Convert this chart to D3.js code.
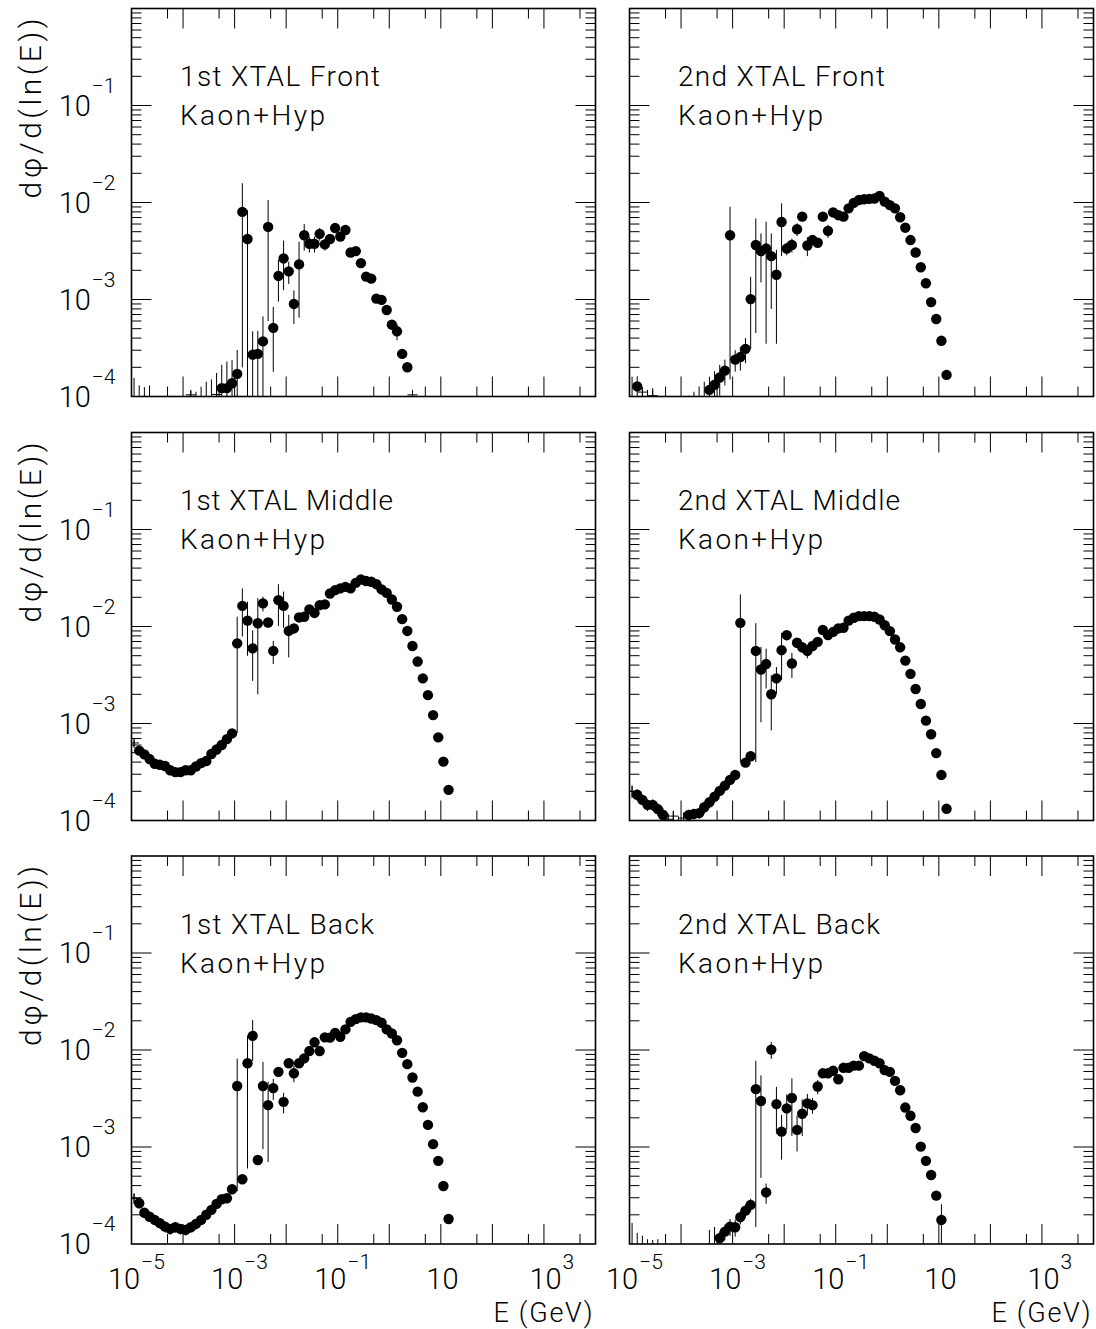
<!DOCTYPE html>
<html>
<head>
<meta charset="utf-8">
<script src="https://cdn.jsdelivr.net/npm/d3@7"></script>
<style>
  html, body { margin: 0; padding: 0; background: #fff; }
  svg { display: block; font-family: "Roboto", "Liberation Sans", sans-serif; font-weight: 300; }
</style>
</head>
<body>
<svg id="chart" width="1096" height="1329"></svg>
<script>
// Bin centres in log10(E/GeV): ten bins per decade
const binLogE = [
  -4.95, -4.85, -4.75, -4.65, -4.55, -4.45, -4.35, -4.25, -4.15, -4.05,
  -3.95, -3.85, -3.75, -3.65, -3.55, -3.45, -3.35, -3.25, -3.15, -3.05,
  -2.95, -2.85, -2.75, -2.65, -2.55, -2.45, -2.35, -2.25, -2.15, -2.05,
  -1.95, -1.85, -1.75, -1.65, -1.55, -1.45, -1.35, -1.25, -1.15, -1.05,
  -0.95, -0.85, -0.75, -0.65, -0.55, -0.45, -0.35, -0.25, -0.15, -0.05,
   0.05,  0.15,  0.25,  0.35,  0.45,  0.55,  0.65,  0.75,  0.85,  0.95,
   1.05,  1.15
];

// dphi/d(lnE) per bin and its statistical error, one pair of arrays per detector position
const front1Val = [
  0.5e-4, 0.4e-4, 0.4e-4, 0.4e-4, null, null, null, null, null, null,
  null, 1.04e-4, 0.3e-4, 0.4e-4, 0.5e-4, 0.5e-4, 1.05e-4, 1.22e-4, 1.22e-4, 1.37e-4,
  1.71e-4, 8.0e-3, 4.2e-3, 2.7e-4, 2.75e-4, 3.7e-4, 5.6e-3, 5.1e-4, 1.75e-3, 2.65e-3,
  1.95e-3, 9.0e-4, 2.3e-3, 4.6e-3, 3.75e-3, 3.75e-3, 4.75e-3, 3.7e-3, 4.2e-3, 5.45e-3,
  4.45e-3, 5.2e-3, 3.05e-3, 3.15e-3, 2.37e-3, 1.72e-3, 1.64e-3, 1.02e-3, 0.99e-3, 7.8e-4,
  5.5e-4, 4.7e-4, 2.75e-4, 2.0e-4, 1.04e-4, null, null, null, null, null,
  null, null
];
const front1Err = [
  1.05e-4, 0.9e-4, 0.85e-4, 0.9e-4, null, null, null, null, null, null,
  null, 0.1e-4, 0.82e-4, 0.86e-4, 0.92e-4, 1.0e-4, 0.7e-4, 0.9e-4, 1.07e-4, 1.0e-4,
  1.3e-4, 7.8e-3, 4.15e-3, 2.0e-4, 2.0e-4, 3.0e-4, 5.0e-3, 3.3e-4, 0.8e-3, 1.4e-3,
  0.5e-3, 3.4e-4, 1.65e-3, 1.4e-3, 0.7e-3, 0.7e-3, 0.7e-3, 0.5e-3, 0.4e-3, 0.6e-3,
  0.4e-3, 0.3e-3, 0.2e-3, 0.2e-3, 0.15e-3, 0.1e-3, 0.1e-3, 0.06e-3, 0.06e-3, 0.5e-4,
  0.4e-4, 0.9e-4, 0.3e-4, 0.2e-4, 0.1e-4, null, null, null, null, null,
  null, null
];

const front2Val = [
  0.6e-4, 1.27e-4, 1.11e-4, 0.5e-4, 1.02e-4, null, null, null, null, null,
  null, 0.5e-4, 0.5e-4, 0.5e-4, 0.5e-4, 1.17e-4, 1.32e-4, 1.57e-4, 1.85e-4, 4.6e-3,
  2.4e-4, 2.55e-4, 3.1e-4, 1.01e-3, 3.65e-3, 3.15e-3, 3.35e-3, 2.8e-3, 1.8e-3, 6.3e-3,
  3.35e-3, 3.65e-3, 5.3e-3, 7.15e-3, 3.6e-3, 4.1e-3, 3.85e-3, 7.15e-3, 5.1e-3, 7.9e-3,
  7.4e-3, 7.15e-3, 8.7e-3, 9.9e-3, 1.06e-2, 1.08e-2, 1.09e-2, 1.10e-2, 1.17e-2, 1.02e-2,
  9.4e-3, 8.7e-3, 7.05e-3, 5.5e-3, 4.1e-3, 3.05e-3, 2.15e-3, 1.47e-3, 9.4e-4, 6.3e-4,
  3.75e-4, 1.67e-4
];
const front2Err = [
  1.0e-4, 0.35e-4, 0.1e-4, 0.67e-4, 0.2e-4, null, null, null, null, null,
  null, 0.52e-4, 0.62e-4, 0.77e-4, 0.92e-4, 0.43e-4, 0.5e-4, 0.55e-4, 0.55e-4, 4.45e-3,
  0.6e-4, 0.7e-4, 0.9e-4, 0.7e-3, 3.2e-3, 1.65e-3, 3.0e-3, 2.0e-3, 1.45e-3, 3.5e-3,
  0.5e-3, 0.6e-3, 0.8e-3, 0.6e-3, 0.8e-3, 0.3e-3, 0.3e-3, 0.8e-3, 0.8e-3, 0.4e-3,
  0.3e-3, 0.3e-3, 0.3e-3, 0.3e-3, 0.3e-3, 0.3e-3, 0.3e-3, 0.3e-3, 0.3e-3, 0.25e-3,
  0.2e-3, 0.2e-3, 0.15e-3, 0.12e-3, 0.1e-3, 0.08e-3, 0.06e-3, 0.04e-3, 0.3e-4, 0.2e-4,
  0.12e-4, 0.06e-4
];

const middle1Val = [
  6.3e-4, 5.25e-4, 4.8e-4, 4.3e-4, 3.85e-4, 3.75e-4, 3.65e-4, 3.3e-4, 3.15e-4, 3.15e-4,
  3.3e-4, 3.3e-4, 3.6e-4, 3.9e-4, 4.1e-4, 4.85e-4, 5.4e-4, 6.0e-4, 6.9e-4, 7.9e-4,
  6.7e-3, 1.63e-2, 1.15e-2, 5.95e-3, 1.08e-2, 1.73e-2, 1.10e-2, 5.6e-3, 1.87e-2, 1.63e-2,
  9.0e-3, 9.55e-3, 1.24e-2, 1.26e-2, 1.50e-2, 1.38e-2, 1.66e-2, 1.69e-2, 2.19e-2, 2.37e-2,
  2.47e-2, 2.56e-2, 2.47e-2, 2.82e-2, 3.05e-2, 2.94e-2, 2.89e-2, 2.73e-2, 2.41e-2, 2.22e-2,
  1.90e-2, 1.60e-2, 1.19e-2, 9.0e-3, 6.3e-3, 4.35e-3, 2.92e-3, 1.96e-3, 1.22e-3, 7.2e-4,
  4.05e-4, 2.07e-4
];
const middle1Err = [
  0.5e-4, 0.3e-4, 0.3e-4, 0.25e-4, 0.2e-4, 0.2e-4, 0.2e-4, 0.2e-4, 0.2e-4, 0.2e-4,
  0.2e-4, 0.2e-4, 0.2e-4, 0.2e-4, 0.25e-4, 0.3e-4, 0.3e-4, 0.35e-4, 0.4e-4, 0.45e-4,
  5.9e-3, 8.4e-3, 6.5e-3, 3.2e-3, 8.8e-3, 3.0e-3, 1.0e-3, 1.5e-3, 8.6e-3, 6.6e-3,
  4.2e-3, 1.0e-3, 0.8e-3, 0.6e-3, 0.6e-3, 0.6e-3, 0.5e-3, 0.5e-3, 0.5e-3, 0.5e-3,
  0.5e-3, 0.5e-3, 0.5e-3, 0.5e-3, 0.5e-3, 0.5e-3, 0.5e-3, 0.4e-3, 0.4e-3, 0.4e-3,
  0.3e-3, 0.3e-3, 0.2e-3, 0.15e-3, 0.1e-3, 0.08e-3, 0.06e-3, 0.04e-3, 0.03e-3, 0.2e-4,
  0.12e-4, 0.07e-4
];

const middle2Val = [
  2.0e-4, 1.84e-4, 1.63e-4, 1.45e-4, 1.45e-4, 1.31e-4, 1.14e-4, 1.03e-4, 1.11e-4, 0.6e-4,
  1.06e-4, 1.14e-4, 1.17e-4, 1.19e-4, 1.37e-4, 1.54e-4, 1.76e-4, 2.02e-4, 2.29e-4, 2.62e-4,
  2.95e-4, 1.09e-2, 3.95e-4, 4.6e-4, 5.6e-3, 3.6e-3, 4.1e-3, 2.0e-3, 2.92e-3, 5.7e-3,
  8.15e-3, 4.15e-3, 6.8e-3, 6.1e-3, 5.6e-3, 6.3e-3, 6.95e-3, 9.2e-3, 8.15e-3, 8.8e-3,
  9.55e-3, 9.7e-3, 1.15e-2, 1.23e-2, 1.28e-2, 1.28e-2, 1.28e-2, 1.26e-2, 1.18e-2, 1.03e-2,
  8.95e-3, 7.35e-3, 6.1e-3, 4.45e-3, 3.25e-3, 2.27e-3, 1.59e-3, 1.07e-3, 7.75e-4, 4.95e-4,
  2.95e-4, 1.32e-4
];
const middle2Err = [
  0.3e-4, 0.25e-4, 0.2e-4, 0.2e-4, 0.2e-4, 0.2e-4, 0.2e-4, 0.15e-4, 0.15e-4, 0.5e-4,
  0.15e-4, 0.15e-4, 0.15e-4, 0.15e-4, 0.2e-4, 0.2e-4, 0.25e-4, 0.25e-4, 0.3e-4, 0.3e-4,
  0.35e-4, 1.05e-2, 0.4e-4, 0.5e-4, 5.2e-3, 2.57e-3, 1.8e-3, 1.15e-3, 0.9e-3, 2.9e-3,
  1.0e-3, 1.2e-3, 0.8e-3, 0.7e-3, 0.9e-3, 0.6e-3, 0.5e-3, 0.4e-3, 0.6e-3, 0.4e-3,
  0.4e-3, 0.3e-3, 0.3e-3, 0.3e-3, 0.3e-3, 0.3e-3, 0.3e-3, 0.3e-3, 0.3e-3, 0.25e-3,
  0.2e-3, 0.2e-3, 0.15e-3, 0.12e-3, 0.1e-3, 0.07e-3, 0.05e-3, 0.04e-3, 0.3e-4, 0.2e-4,
  0.12e-4, 0.06e-4
];

const back1Val = [
  2.95e-4, 2.63e-4, 2.1e-4, 1.91e-4, 1.77e-4, 1.64e-4, 1.51e-4, 1.43e-4, 1.49e-4, 1.43e-4,
  1.40e-4, 1.49e-4, 1.61e-4, 1.77e-4, 2.0e-4, 2.25e-4, 2.59e-4, 2.89e-4, 2.96e-4, 3.67e-4,
  4.25e-3, 4.65e-4, 7.3e-3, 1.40e-2, 7.35e-4, 4.25e-3, 2.7e-3, 4.05e-3, 5.95e-3, 2.92e-3,
  7.3e-3, 5.75e-3, 7.3e-3, 8.2e-3, 9.75e-3, 1.2e-2, 9.75e-3, 1.35e-2, 1.34e-2, 1.50e-2,
  1.37e-2, 1.63e-2, 1.95e-2, 2.08e-2, 2.17e-2, 2.17e-2, 2.11e-2, 2.03e-2, 1.91e-2, 1.63e-2,
  1.48e-2, 1.26e-2, 9.35e-3, 7.15e-3, 5.2e-3, 3.72e-3, 2.57e-3, 1.69e-3, 1.07e-3, 7.2e-4,
  3.96e-4, 1.81e-4
];
const back1Err = [
  0.35e-4, 0.3e-4, 0.25e-4, 0.22e-4, 0.2e-4, 0.2e-4, 0.2e-4, 0.18e-4, 0.18e-4, 0.18e-4,
  0.18e-4, 0.18e-4, 0.2e-4, 0.2e-4, 0.22e-4, 0.25e-4, 0.28e-4, 0.3e-4, 0.3e-4, 0.4e-4,
  3.9e-3, 0.5e-4, 6.7e-3, 6.3e-3, 0.6e-4, 3.3e-3, 2.0e-3, 1.0e-3, 0.5e-3, 0.7e-3,
  0.5e-3, 1.1e-3, 0.5e-3, 0.5e-3, 0.5e-3, 0.5e-3, 0.5e-3, 0.5e-3, 0.5e-3, 0.5e-3,
  0.5e-3, 0.5e-3, 0.5e-3, 0.5e-3, 0.5e-3, 0.5e-3, 0.4e-3, 0.4e-3, 0.4e-3, 0.4e-3,
  0.3e-3, 0.3e-3, 0.2e-3, 0.15e-3, 0.1e-3, 0.08e-3, 0.06e-3, 0.04e-3, 0.03e-3, 0.2e-4,
  0.12e-4, 0.07e-4
];

const back2Val = [
  0.6e-4, 0.5e-4, 0.5e-4, 0.5e-4, 0.5e-4, 0.5e-4, null, null, null, null,
  null, null, null, null, null, 0.5e-4, 0.6e-4, 1.15e-4, 1.34e-4, 1.51e-4,
  1.49e-4, 1.89e-4, 2.21e-4, 2.53e-4, 3.95e-3, 2.98e-3, 3.4e-4, 1.01e-2, 2.77e-3, 1.44e-3,
  2.5e-3, 3.2e-3, 1.5e-3, 2.2e-3, 2.82e-3, 2.7e-3, 4.2e-3, 5.75e-3, 5.75e-3, 6.1e-3,
  5.0e-3, 6.55e-3, 6.55e-3, 6.9e-3, 6.9e-3, 8.65e-3, 8.2e-3, 7.75e-3, 7.3e-3, 6.2e-3,
  5.95e-3, 4.8e-3, 3.85e-3, 2.55e-3, 2.1e-3, 1.57e-3, 1.01e-3, 7.2e-4, 5.15e-4, 3.15e-4,
  1.77e-4, null
];
const back2Err = [
  1.05e-4, 0.8e-4, 0.72e-4, 0.62e-4, 0.6e-4, 0.62e-4, null, null, null, null,
  null, null, null, null, null, 0.9e-4, 0.9e-4, 0.2e-4, 0.25e-4, 0.3e-4,
  0.3e-4, 0.3e-4, 0.35e-4, 0.4e-4, 3.8e-3, 2.5e-3, 0.8e-4, 2.0e-3, 1.4e-3, 0.7e-3,
  1.0e-3, 1.9e-3, 0.6e-3, 0.9e-3, 0.7e-3, 0.5e-3, 0.7e-3, 0.6e-3, 0.5e-3, 0.4e-3,
  0.5e-3, 0.3e-3, 0.3e-3, 0.3e-3, 0.3e-3, 0.3e-3, 0.3e-3, 0.3e-3, 0.25e-3, 0.2e-3,
  0.2e-3, 0.15e-3, 0.12e-3, 0.1e-3, 0.08e-3, 0.06e-3, 0.05e-3, 0.04e-3, 0.3e-4, 0.2e-4,
  0.8e-4, null
];

const panelTitles = ["1st XTAL Front", "2nd XTAL Front", "1st XTAL Middle",
                     "2nd XTAL Middle", "1st XTAL Back", "2nd XTAL Back"];
const panelSubtitle = "Kaon+Hyp";
const yLabelExponents = [-1, -2, -3, -4];
const xLabelExponents = [-5, -3, -1, 1, 3];
const yTitle = "dφ/d(ln(E))";
const xTitle = "E (GeV)";

const panels = [
  { title: panelTitles[0], values: front1Val,  errors: front1Err,  titleLen: 200 },
  { title: panelTitles[1], values: front2Val,  errors: front2Err,  titleLen: 207 },
  { title: panelTitles[2], values: middle1Val, errors: middle1Err, titleLen: 213 },
  { title: panelTitles[3], values: middle2Val, errors: middle2Err, titleLen: 222 },
  { title: panelTitles[4], values: back1Val,   errors: back1Err,   titleLen: 194 },
  { title: panelTitles[5], values: back2Val,   errors: back2Err,   titleLen: 202 }
];

// ---- layout ----
const colLeft = [131.5, 629.5];
const rowTop = [8.5, 432.5, 856];
const W = 464, H = 388;
const MARK_R = 5.2;

const svg = d3.select("#chart");
const x = d3.scaleLog().domain([1e-5, 1e4]).range([0, W]);
const y = d3.scaleLog().domain([1e-4, 1]).range([H, 0]);

const xMajor = d3.range(-4, 4).map(n => Math.pow(10, n));
const xMinor = d3.range(-5, 4).map(n => 5 * Math.pow(10, n));
const yMajor = d3.range(-3, 0).map(n => Math.pow(10, n));
const yMinor = [];
d3.range(-4, 0).forEach(n => d3.range(2, 10).forEach(m => yMinor.push(m * Math.pow(10, n))));

const defs = svg.append("defs");

panels.forEach((p, i) => {
  const col = i % 2, row = Math.floor(i / 2);
  const g = svg.append("g").attr("transform", `translate(${colLeft[col]},${rowTop[row]})`);

  defs.append("clipPath").attr("id", "frame" + i)
    .append("rect").attr("x", 0).attr("y", 0).attr("width", W).attr("height", H);

  // tick marks on all four sides, pointing inward
  const ticks = g.append("g").attr("stroke", "#000").attr("stroke-width", 1);
  [[xMajor, 20], [xMinor, 10]].forEach(([vals, len]) => {
    vals.forEach(v => {
      const px = x(v);
      ticks.append("line").attr("x1", px).attr("x2", px).attr("y1", H).attr("y2", H - len);
      ticks.append("line").attr("x1", px).attr("x2", px).attr("y1", 0).attr("y2", len);
    });
  });
  [[yMajor, 20], [yMinor, 10]].forEach(([vals, len]) => {
    vals.forEach(v => {
      const py = y(v);
      ticks.append("line").attr("x1", 0).attr("x2", len).attr("y1", py).attr("y2", py);
      ticks.append("line").attr("x1", W).attr("x2", W - len).attr("y1", py).attr("y2", py);
    });
  });

  // data: error bars and markers
  const pts = binLogE.map((le, k) => ({ E: Math.pow(10, le), v: p.values[k], s: p.errors[k] }))
    .filter(d => d.v != null);

  const plot = g.append("g").attr("clip-path", `url(#frame${i})`);

  plot.append("g").attr("stroke", "#000").attr("stroke-width", 1)
    .selectAll("line").data(pts).join("line")
      .attr("x1", d => x(d.E)).attr("x2", d => x(d.E))
      .attr("y1", d => { const lo = d.v - (d.s || 0); return lo > 1e-5 ? y(lo) : H + 10; })
      .attr("y2", d => y(d.v + (d.s || 0)));

  const edgeDist = d => {
    const cx = x(d.E), cy = y(d.v);
    return Math.min(cx, W - cx, cy, H - cy);
  };
  const full = pts.filter(d => edgeDist(d) >= MARK_R);
  const edge = pts.filter(d => edgeDist(d) >= 0 && edgeDist(d) < MARK_R);

  plot.append("g").selectAll("circle").data(full).join("circle")
    .attr("cx", d => x(d.E)).attr("cy", d => y(d.v)).attr("r", MARK_R).attr("fill", "#000");

  const cross = plot.append("g").attr("stroke", "#000").attr("stroke-width", 1);
  cross.selectAll("line.h").data(edge).join("line").attr("class", "h")
    .attr("x1", d => x(d.E) - 5).attr("x2", d => x(d.E) + 5)
    .attr("y1", d => y(d.v)).attr("y2", d => y(d.v));
  cross.selectAll("line.v").data(edge).join("line").attr("class", "v")
    .attr("x1", d => x(d.E)).attr("x2", d => x(d.E))
    .attr("y1", d => y(d.v) - 5).attr("y2", d => y(d.v) + 5);

  // frame
  g.append("rect").attr("width", W).attr("height", H)
    .attr("fill", "none").attr("stroke", "#000").attr("stroke-width", 1.6);

  // panel text
  g.append("text").attr("x", 48.5).attr("y", 77.5).attr("font-size", 28)
    .attr("textLength", p.titleLen).attr("lengthAdjust", "spacing").text(p.title);
  g.append("text").attr("x", 48.5).attr("y", 116.5).attr("font-size", 28)
    .attr("textLength", 145).attr("lengthAdjust", "spacing").text(panelSubtitle);

  if (col === 0) {
    // y tick labels: 10 with superscript exponent
    yLabelExponents.forEach(e => {
      const t = g.append("text").attr("x", -16).attr("y", y(Math.pow(10, e)) + 10)
        .attr("text-anchor", "end").attr("font-size", 29);
      t.append("tspan").text("10");
      t.append("tspan").attr("dx", 1).attr("dy", -23).attr("font-size", 21).text("\u2212" + Math.abs(e));
    });

    // y axis title
    svg.append("text")
      .attr("transform", `translate(41,${rowTop[row] + 190}) rotate(-90)`)
      .attr("font-size", 30).attr("textLength", 180).attr("lengthAdjust", "spacing")
      .text(yTitle);
  }

  // x tick labels and title on the bottom row
  if (row === 2) {
    xLabelExponents.forEach(e => {
      const px = x(Math.pow(10, e));
      const t = g.append("text").attr("x", px + (e < 0 ? -23.5 : -14.5)).attr("y", H + 45)
        .attr("font-size", 29);
      t.append("tspan").text("10");
      if (e !== 1) {
        t.append("tspan").attr("dx", 1).attr("dy", -20).attr("font-size", 21)
          .text((e < 0 ? "\u2212" : "") + Math.abs(e));
      }
    });
    g.append("text").attr("x", 461).attr("y", H + 78).attr("text-anchor", "end")
      .attr("font-size", 27).attr("textLength", 99).attr("lengthAdjust", "spacing")
      .text(xTitle);
  }
});
</script>
</body>
</html>
